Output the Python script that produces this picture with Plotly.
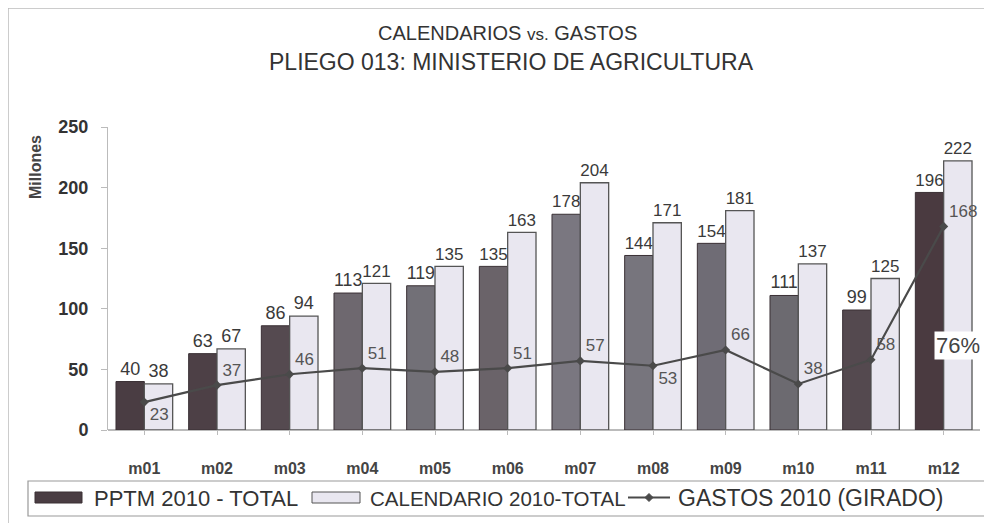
import plotly.graph_objects as go

meses = ["m01", "m02", "m03", "m04", "m05", "m06", "m07", "m08", "m09", "m10", "m11", "m12"]
pptm = [40, 63, 86, 113, 119, 135, 178, 144, 154, 111, 99, 196]
calendario = [38, 67, 94, 121, 135, 163, 204, 171, 181, 137, 125, 222]
gastos = [23, 37, 46, 51, 48, 51, 57, 53, 66, 38, 58, 168]
gastos_pos = ["bottom right", "top right", "top right", "top right", "top right", "top right",
              "top right", "bottom right", "top right", "top right", "top right", "top right"]
y_ticks = [0, 50, 100, 150, 200, 250]
series_names = ["PPTM 2010 - TOTAL", "CALENDARIO 2010-TOTAL", "GASTOS 2010 (GIRADO)"]

dark_colors = ["#4a3d43", "#4d4046", "#554a50", "#6e686f", "#727077", "#6a6369",
               "#7a7780", "#77757d", "#6f6c75", "#6c6a70", "#54494f", "#4a3a40"]
LIGHT = "#e9e7f0"
FONT = "Liberation Sans, Arial, sans-serif"

# page body has an 8px margin: work in screen pixels, convert to figure pixels
OFF = 8
W, H = 992, 523
L, R, T, B = 108 - OFF, 980 - OFF, 127 - OFF, 430 - OFF


def px(x):
    return (x - OFF - L) / (R - L)


def py(y):
    return (B - (y - OFF)) / (B - T)


fig = go.Figure()
fig.add_trace(go.Bar(
    x=meses, y=pptm, name=series_names[0],
    marker=dict(color=dark_colors, line=dict(color="#3a3035", width=1)),
    text=pptm, textposition="outside", cliponaxis=False,
    textfont=dict(family=FONT, size=18, color="#3a3a3a"),
))
fig.add_trace(go.Bar(
    x=meses, y=calendario, name=series_names[1],
    marker=dict(color=LIGHT, line=dict(color="#555555", width=1.3)),
    text=calendario, textposition="outside", cliponaxis=False,
    textfont=dict(family=FONT, size=18, color="#3a3a3a"),
))
fig.add_trace(go.Scatter(
    x=meses, y=gastos, name=series_names[2], mode="lines+markers+text",
    line=dict(color="#4a4a4a", width=2.2),
    marker=dict(symbol="diamond", size=7, color="#4a4a4a"),
    text=gastos, textposition=gastos_pos, cliponaxis=False,
    textfont=dict(family=FONT, size=17, color="#555555"),
))

fig.add_annotation(x="m12", y=70, text="76%", showarrow=False, xshift=14,
                   bgcolor="white", font=dict(family=FONT, size=22, color="#444444"))

# titles
fig.add_annotation(xref="paper", yref="paper", x=px(507), y=py(33), xanchor="center", yanchor="middle",
                   text="CALENDARIOS <span style='font-size:17px'>vs.</span> GASTOS", showarrow=False,
                   font=dict(family=FONT, size=20, color="#333333"))
fig.add_annotation(xref="paper", yref="paper", x=px(511), y=py(62), xanchor="center", yanchor="middle",
                   text="PLIEGO 013: MINISTERIO DE AGRICULTURA", showarrow=False,
                   font=dict(family=FONT, size=23, color="#333333"))
fig.add_annotation(xref="paper", yref="paper", x=px(35), y=py(167), textangle=-90,
                   xanchor="center", yanchor="middle",
                   text="<b>Millones</b>", showarrow=False,
                   font=dict(family=FONT, size=16, color="#444444"))

# outer frame lines
fig.add_shape(type="line", xref="paper", yref="paper", x0=px(8), x1=px(1000), y0=py(8), y1=py(8),
              line=dict(color="#bbbbbb", width=1.5))
fig.add_shape(type="line", xref="paper", yref="paper", x0=px(8), x1=px(8), y0=py(8), y1=py(530),
              line=dict(color="#bbbbbb", width=1.5))

# legend (drawn)
fig.add_shape(type="rect", xref="paper", yref="paper", x0=px(28), x1=px(1005), y0=py(481), y1=py(516),
              line=dict(color="#999999", width=1.2), fillcolor="white")
fig.add_shape(type="rect", xref="paper", yref="paper", x0=px(35), x1=px(82), y0=py(492), y1=py(503),
              line=dict(color="#3a3035", width=1), fillcolor="#4a3d43")
fig.add_shape(type="rect", xref="paper", yref="paper", x0=px(312), x1=px(360), y0=py(492), y1=py(503),
              line=dict(color="#555555", width=1), fillcolor=LIGHT)
fig.add_shape(type="line", xref="paper", yref="paper", x0=px(628), x1=px(670), y0=py(497.5), y1=py(497.5),
              line=dict(color="#4a4a4a", width=2.2))
fig.add_shape(type="path", xref="paper", yref="paper",
              path=f"M {px(649)} {py(493.5)} L {px(653)} {py(497.5)} L {px(649)} {py(501.5)} L {px(645)} {py(497.5)} Z",
              line=dict(color="#4a4a4a", width=1), fillcolor="#4a4a4a")
for xpos, name, fs in zip([92, 368, 676], series_names, [22, 20.5, 23]):
    fig.add_annotation(xref="paper", yref="paper", x=px(xpos), y=py(498), xanchor="left", yanchor="middle",
                       text=name, showarrow=False, font=dict(family=FONT, size=fs, color="#333333"))

fig.update_layout(
    width=W, height=H,
    margin=dict(l=L, r=W - R, t=T, b=H - B, autoexpand=False),
    paper_bgcolor="white", plot_bgcolor="white",
    barmode="group", bargap=0.22, bargroupgap=0.0,
    showlegend=False,
    font=dict(family=FONT),
)
fig.update_xaxes(range=[-0.5, 11.5], showline=False, ticks="outside", ticklen=4, tickcolor="#bbbbbb",
                 tickfont=dict(family=FONT, size=16, color="#444444", weight="bold"),
                 ticklabelstandoff=20, showgrid=False, automargin=False)
fig.update_yaxes(range=[0, 250], tickvals=y_ticks, showline=True, linecolor="#bbbbbb",
                 ticks="outside", ticklen=6, tickcolor="#bbbbbb", showgrid=False, zeroline=True,
                 zerolinecolor="#bbbbbb", automargin=False,
                 tickfont=dict(family=FONT, size=18, color="#333333", weight="bold"), ticklabelstandoff=9)

fig.write_html("out.html")
